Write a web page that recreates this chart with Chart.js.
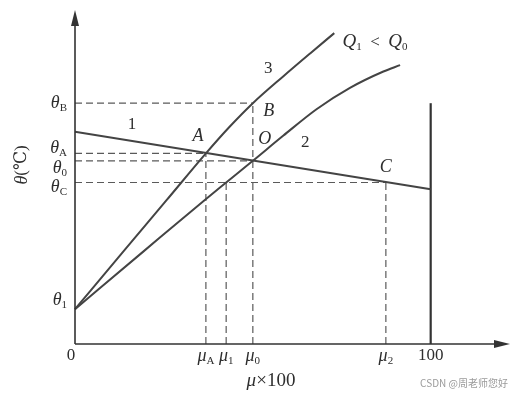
<!DOCTYPE html>
<html>
<head>
<meta charset="utf-8">
<script src="https://cdn.jsdelivr.net/npm/chart.js@4/dist/chart.umd.min.js"></script>
<style>
  html, body { margin: 0; padding: 0; background: #fff; }
  canvas { display: block; }
</style>
</head>
<body>
<canvas id="chart" width="511" height="396"></canvas>
<script>
// θ (℃) against μ×100
const curve3X = [0, 13.5, 25.8, 36.8, 43.4, 50, 58.6, 66.1, 72.9];
const curve3Y = [9.8, 25.9, 40.5, 53.6, 61.0, 67.7, 75.3, 81.7, 87.4];
const curve2X = [0, 19.1, 36.5, 42.5, 50, 58.6, 67.9, 77.3, 86.7, 91.4];
const curve2Y = [9.8, 25.9, 40.5, 45.4, 51.5, 58.6, 66.0, 72.0, 76.6, 78.4];
const line1X = [0, 100];
const line1Y = [59.7, 43.5];
const wallX = [100, 100];
const wallY = [0, 67.7];

const muTicks = [0, 36.8, 42.5, 50, 87.4, 100];
const muLabels = ['0', 'μ_A', 'μ_1', 'μ_0', 'μ_2', '100'];
const thetaTicks = [67.7, 53.6, 51.5, 45.4, 9.8];
const thetaLabels = ['θ_B', 'θ_A', 'θ_0', 'θ_C', 'θ_1'];

// where the dashed guides stop
const hGuideEnd = [50, 36.8, 50, 87.4];      // for θB, θA, θ0, θC
const vGuideTop = [53.6, 45.4, 67.7, 45.4];  // for μA, μ1, μ0, μ2

const pointNames = ['A', 'O', 'B', 'C'];
const pointX = [36.8, 50, 50, 87.4];
const pointY = [53.6, 51.5, 67.7, 45.4];

const LINE = '#444';
const TEXT = '#2e2e2e';
const DASH = '#5a5a5a';

const SERIF = "'Liberation Serif', 'DejaVu Serif', serif";
const fMain = 'italic 18px ' + SERIF;
const fRoman = '17px ' + SERIF;
const fSub = '11px ' + SERIF;

const pts = (xs, ys) => xs.map((x, i) => ({x: x, y: ys[i]}));

const line = (data, extra) => Object.assign({
  data: data, showLine: true, pointRadius: 0, borderColor: LINE,
  borderWidth: 2, fill: false, clip: false
}, extra);

const datasets = [
  line(pts(curve3X, curve3Y), {cubicInterpolationMode: 'monotone'}),
  line(pts(curve2X, curve2Y), {cubicInterpolationMode: 'monotone'}),
  line(pts(line1X, line1Y)),
  line(pts(wallX, wallY), {borderColor: '#333', borderWidth: 2.2})
];

thetaTicks.slice(0, 4).forEach((t, i) => {
  datasets.push(line([{x: 0, y: t}, {x: hGuideEnd[i], y: t}],
    {borderColor: DASH, borderWidth: 1.2, borderDash: [7, 4]}));
});
muTicks.slice(1, 5).forEach((m, i) => {
  datasets.push(line([{x: m, y: 0}, {x: m, y: vGuideTop[i]}],
    {borderColor: DASH, borderWidth: 1.2, borderDash: [7, 4]}));
});

// text made of pieces: [text, font, dy]
function rich(ctx, parts, x, y, align) {
  let w = 0;
  parts.forEach(p => { ctx.font = p[1]; w += ctx.measureText(p[0]).width; });
  let cx = align === 'right' ? x - w : align === 'left' ? x : x - w / 2;
  ctx.textAlign = 'left';
  ctx.textBaseline = 'middle';
  parts.forEach(p => {
    ctx.font = p[1];
    ctx.fillText(p[0], cx, y + (p[2] || 0));
    cx += ctx.measureText(p[0]).width;
  });
}

function tickParts(label) {
  const s = label.split('_');
  if (s.length === 1) return [[s[0], fRoman]];
  return [[s[0], fMain], [s[1], fSub, 5]];
}

const thetaDy = [0, -5, 7, 5, -9];
const pointOffset = {A: [-8, -17], O: [12, -22], B: [16, 8], C: [0, -15]};

const figure = {
  id: 'figure',
  afterDraw(chart) {
    const ctx = chart.ctx;
    const xs = chart.scales.x, ys = chart.scales.y;
    const X = v => xs.getPixelForValue(v), Y = v => ys.getPixelForValue(v);
    const x0 = X(0), y0 = Y(0);
    const ca = chart.chartArea;

    ctx.save();
    // axes with arrows
    ctx.strokeStyle = '#333';
    ctx.fillStyle = '#333';
    ctx.lineWidth = 1.6;
    ctx.beginPath();
    ctx.moveTo(x0, y0); ctx.lineTo(ca.right - 10, y0);
    ctx.moveTo(x0, y0); ctx.lineTo(x0, ca.top + 10);
    ctx.stroke();
    ctx.beginPath();
    ctx.moveTo(ca.right, y0); ctx.lineTo(ca.right - 16, y0 - 4); ctx.lineTo(ca.right - 16, y0 + 4);
    ctx.closePath(); ctx.fill();
    ctx.beginPath();
    ctx.moveTo(x0, ca.top); ctx.lineTo(x0 - 4, ca.top + 16); ctx.lineTo(x0 + 4, ca.top + 16);
    ctx.closePath(); ctx.fill();

    ctx.fillStyle = TEXT;
    // μ tick labels
    muTicks.forEach((m, i) => {
      const dx = i === 0 ? -4 : 0;
      rich(ctx, tickParts(muLabels[i]), X(m) + dx, y0 + 12, 'center');
    });
    // θ tick labels
    thetaTicks.forEach((t, i) => {
      rich(ctx, tickParts(thetaLabels[i]), x0 - 8, Y(t) + thetaDy[i], 'right');
    });
    // point letters
    pointNames.forEach((n, i) => {
      const o = pointOffset[n];
      rich(ctx, [[n, fMain]], X(pointX[i]) + o[0], Y(pointY[i]) + o[1], 'center');
    });
    // curve numbers
    rich(ctx, [['1', fRoman]], X(16), Y(57.1) - 16, 'center');
    rich(ctx, [['2', fRoman]], X(64.7), Y(64.2) + 27, 'center');
    rich(ctx, [['3', fRoman]], X(54.3), Y(71.2) - 22, 'center');
    const fQ = 'italic 19px ' + SERIF;
    rich(ctx, [['Q', fQ], ['1', fSub, 5], ['  <  ', fRoman], ['Q', fQ], ['0', fSub, 5]],
      X(75.2), Y(87.4) + 9, 'left');

    // axis titles
    rich(ctx, [['μ', 'italic 19px ' + SERIF], ['×100', '19px ' + SERIF]], 271, 381, 'center');
    ctx.translate(22, 165);
    ctx.rotate(-Math.PI / 2);
    rich(ctx, [['θ', fMain], ['(℃)', fRoman]], 0, 0, 'center');
    ctx.restore();

    ctx.save();
    ctx.fillStyle = '#9a9a9a';
    ctx.font = "10px 'Noto Sans CJK SC', 'Noto Sans', sans-serif";
    ctx.textAlign = 'right';
    ctx.textBaseline = 'middle';
    ctx.fillText('CSDN @周老师您好', 508, 383);
    ctx.restore();
  }
};

new Chart(document.getElementById('chart'), {
  type: 'scatter',
  data: {datasets: datasets},
  options: {
    responsive: false,
    animation: false,
    devicePixelRatio: 1,
    events: [],
    layout: {padding: {left: 75, right: 1, top: 10, bottom: 52}},
    scales: {
      x: {type: 'linear', min: 0, max: 122.3, display: false},
      y: {type: 'linear', min: 0, max: 93.9, display: false}
    },
    plugins: {legend: {display: false}, tooltip: {enabled: false}}
  },
  plugins: [figure]
});
</script>
</body>
</html>
